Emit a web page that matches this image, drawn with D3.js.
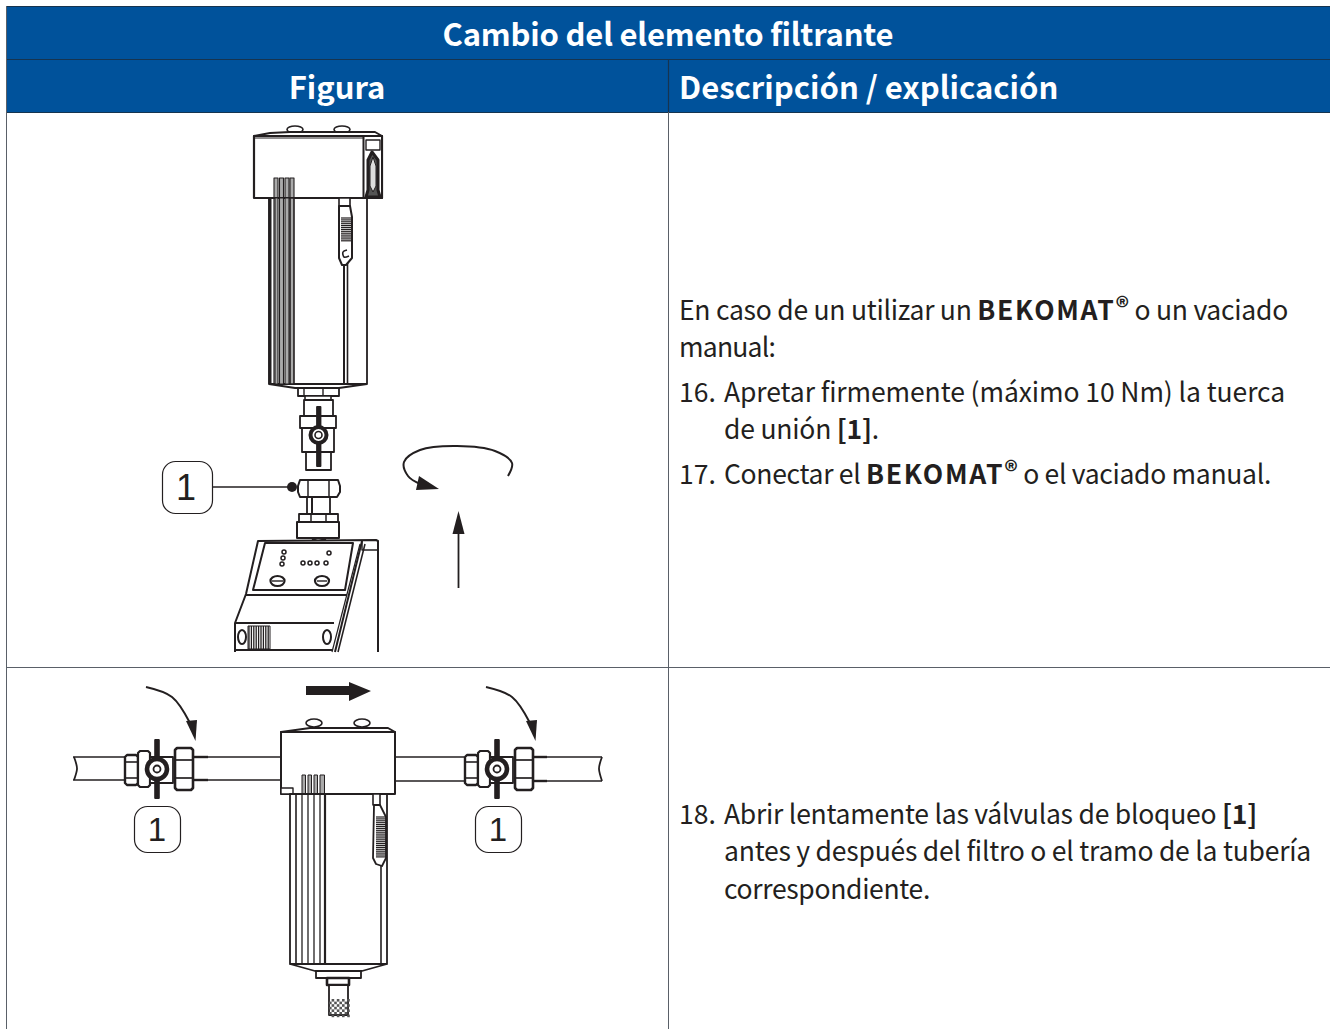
<!DOCTYPE html>
<html><head><meta charset="utf-8">
<script src="https://d3js.org/d3.v7.min.js"></script>
<style>html,body{margin:0;padding:0;background:#fff;overflow:hidden}svg{display:block}</style>
</head><body><svg id="c" width="1330" height="1029"></svg>
<script>
const title = "Cambio del elemento filtrante";
const colHeads = [{t:"Figura",x:337,a:"middle"},{t:"Descripción / explicación",x:679,a:"start"}];
const bodyLines = [
 {x:679,y:320,e:1288,s:[["En caso de un utilizar un "],["BEKOMAT",1],["®",2],[" o un vaciado"]]},
 {x:679,y:357,e:775,s:[["manual:"]]},
 {x:679,y:402,e:716,s:[["16."]]},
 {x:724,y:402,e:1285,s:[["Apretar firmemente (máximo 10 Nm) la tuerca"]]},
 {x:724,y:439,e:879,s:[["de unión "],["[1]",1],["."]]},
 {x:679,y:484,e:716,s:[["17."]]},
 {x:724,y:484,e:1271,s:[["Conectar el "],["BEKOMAT",1],["®",2],[" o el vaciado manual."]]},
 {x:679,y:824,e:716,s:[["18."]]},
 {x:724,y:824,e:1257,s:[["Abrir lentamente las válvulas de bloqueo "],["[1]",1]]},
 {x:724,y:861,e:1311,s:[["antes y después del filtro o el tramo de la tubería"]]},
 {x:724,y:899,e:930,s:[["correspondiente."]]}
];
const callouts = [[162,461,212,513,186,487,36],[134,806,180,852,157,829,33],[475,806,521,852,498,829,33]];
const rule = [[0,1330],[0,1029]];

// drawing primitives: [strokeWidth, fill, closed, curved, points]
const R=(a,b,c,d,w=1.6,f="#fff")=>[w,f,1,0,[[a,b],[c,b],[c,d],[a,d]]];
const L=(w,...p)=>[w,"none",0,0,p];
const S=(w,...p)=>[w,"none",0,1,p];
const F=(...p)=>[0,"#231f20",1,0,p];
const RR=(a,b,c,d,w=1.6)=>[w,"#fff",1,0,[[a+2,b],[c-2,b],[c,b+2],[c,d-2],[c-2,d],[a+2,d],[a,d-2],[a,b+2]]];

const caps1 = [[295,129.5,8,3.5,1.6],[342,129.5,8,3.5,1.6]];
const ellipses1 = [
 [318.5,435,8,8,4],[318.5,435,3.5,3.5,1.6],
 [284,552,2,2,1.5],[283,558,2,2,1.5],[282,564,2,2,1.5],
 [303,563,2,2,1.5],[310,563,2,2,1.5],[317,563,2,2,1.5],[326,563,2,2,1.5],[329,553,2,2,1.5],
 [277.5,581,7,5,2.2],[322,581,7,5,2.2],
 [242,637,4,7,2],[327,637,4,7,2]
];
const figure1 = [
 [2,"#fff",1,0,[[254,136],[270,133],[290,132],[375,132],[382,136]]],
 R(254,136,382,198,2.2),
 L(1,[254,138],[363,138]),
 R(363.5,136,382,198,2),
 R(366,140,380,150,1.4),
 [3,"#555",1,0,[[372,152],[378,160],[378,190],[380,197],[366,197],[368,190],[368,160]]],
 [1,"#ddd",1,0,[[373,157],[376,166],[376,186],[373,192],[370,186],[370,166]]],
 // fins
 R(274,178,278,198,1.1,"#aaa"),R(279.5,178,283.5,198,1.1,"#aaa"),R(285,178,289,198,1.1,"#aaa"),R(290,178,294,198,1.1,"#aaa"),
 // body
 R(269,198,367,384,1.8),
 L(3,[270,198],[270,384]),
 L(1.2,[274,198],[274,384]),
 R(275,198,278,384,1.1,"#aaa"),R(279.5,198,283.5,384,1.1,"#aaa"),R(285,198,289,384,1.1,"#aaa"),R(290,198,294,384,1.6,"#aaa"),
 L(2,[344,262],[344,384]),L(1.6,[347.5,262],[347.5,384]),
 // latch
 R(339,198,350,206,1.6),
 [2,"#fff",1,0,[[339,206],[350,206],[352,217],[352,258],[346,265],[342,265],[339,258]]],
 ...d3.range(218,242,1.9).map(y=>L(1.2,[341,y],[351,y])),
 S(1.6,[347,250],[343,252],[344,257],[349,256]),
 // bottom
 L(1.8,[269,384],[295,388],[339,388],[367,384]),
 R(298,388,339,396,1.8),L(1.4,[304,388],[304,396]),L(1.4,[323,388],[323,396]),
 R(305,396,331,400,1.6),
 // vertical valve
 R(304,400,333,416,1.8),
 R(300,416,336,428,1.8),
 R(302,428,334,452,1.8),
 R(306,452,331,470,1.8),
 R(317,407,320.5,466,1.8,"#231f20"),
 // nut and stub
 [2,"#fff",1,0,[[300,480],[338,480],[340,486],[340,492],[337,497],[300,497],[298,492],[298,486]]],
 L(1.5,[308,480],[308,497]),L(1.5,[329,480],[329,497]),
 R(307,497,330,515,1.8),
 L(2,[312,497],[312,515]),
 R(299,514,338,522,1.8),L(1.5,[311,514],[311,522]),L(1.5,[326,514],[326,522]),
 R(297,522,339,538,2),
 L(2,[312,540],[318,538],[326,540]),
 // device
 L(2,[378,652],[378,541],[376,540],[258,541],[246,594],[235,623],[235,652]),
 L(2,[362,541],[335,652]),L(1.6,[365,544],[338,652]),L(1.2,[360,544],[332,652]),
 L(1.4,[362,541],[362,550],[378,550]),
 [2,"none",1,0,[[265,543],[353,543],[345,590],[253,590]]],
 L(2,[246,595],[347,595]),
 L(2,[235,623],[334,623]),
 L(2,[235,650],[333,650]),
 R(248,626,270,649,1,"#fff"),
 ...d3.range(249,270,2.4).map(x=>L(1.3,[x,626],[x,649])),
 // rotation & up arrow
 S(2,[508,476],[512,463],[495,451],[457,446],[420,450],[404,462],[408,476],[420,484]),
 F([439,489],[419,476],[416,490]),
 L(1.8,[458.5,588],[458.5,530]),
 F([458.5,511],[452.5,534],[464.5,534]),
 // leader
 L(1.6,[212,487],[291,487])
];
const buttonMarks = [L(1.4,[272,581],[283,581]),L(1.4,[317,581],[327,581])];
const caps2 = [[314,723,8,4,1.6],[362,723,8,4,1.6]];
const pipeLeft = [
 S(1.8,[74,757],[76,763],[77,769],[74,780]),
 L(1.6,[73,757],[125,757]),L(1.6,[73,780],[125,780]),
 L(1.5,[193,757],[281,757]),L(1.5,[193,780],[281,780]),
 L(2.4,[193,757],[208,757]),L(2.4,[193,780],[208,780])
];
const pipeRight = [
 S(1.8,[602,757],[600,763],[599,769],[602,781]),
 L(1.5,[395,757],[464,757]),L(1.5,[395,781],[464,781]),
 L(1.5,[532,757],[602,757]),L(1.5,[532,781],[602,781]),
 L(2.4,[532,757],[547,757]),L(2.4,[532,781],[547,781])
];
const valve = [
 RR(125,755,138,785,2.4),L(1.6,[125,762],[138,762]),L(1.6,[125,778],[138,778]),
 RR(138,751,150,787,2.2),
 R(150,757,173,783,1.8),
 RR(175,748,193,790,2.6),L(1.7,[175,760],[193,760]),L(1.7,[175,778],[193,778]),
 R(155.2,740,158.8,798,2,"#231f20")
];
const valveEll = [[157,769,10,10,4.6],[157,769,3.5,3.5,1.8]];
const figure2Arrow = [
 S(2,[146,687],[172,697],[190,723]),
 F([195.5,741],[186,721],[197,720])
];
const figure2 = [
 F([306,686],[349,686],[349,682],[371,691],[349,701],[349,695],[306,695]),
 [2,"#fff",1,0,[[281,732],[310,728],[388,728],[395,732]]],
 R(281,732,395,794,2),
 R(281,788,293,794,1.4),
 R(302,775,305.5,794,1,"#aaa"),R(308,775,311.5,794,1,"#aaa"),R(314,775,317.5,794,1,"#aaa"),R(320,775,324.5,794,1,"#aaa"),
 R(290,794,387,964,1.8),
 L(1.6,[296,794],[296,964]),
 L(1.3,[302,794],[302,964]),L(1.3,[308,794],[308,964]),L(1.3,[314,794],[314,964]),L(1.3,[320,794],[320,964]),L(2.2,[325,794],[325,964]),
 L(1.6,[381,866],[381,964]),
 R(373,794,380,805,1.6),
 [1.8,"#fff",1,0,[[374,805],[380,805],[386,817],[386,858],[382,866],[376,864],[373,858]]],
 ...d3.range(817,857,1.9).map(y=>L(1.2,[376,y],[386,y])),
 L(1.8,[290,964],[315,971],[362,971],[387,964]),
 R(316,971,361,978,1.8),
 R(327,978,349,985,2.6),
 R(329,985,348,1015,1.8)
];
const checker = d3.range(329,348,2.6).flatMap((x,i)=>d3.range(999,1015,2.6).map((y,j)=>[x,y,(i+j)%2]));
const gridBorders = [
 L(1,[6.5,6],[6.5,1029]),
 L(1,[668.5,112],[668.5,1029]),
 L(1,[6.5,667.5],[1330,667.5])
];
const headerRules = [
 L(1,[6,6.5],[1330,6.5]),L(1.2,[6,59.5],[1330,59.5]),L(1.2,[6,112.5],[1330,112.5]),L(1.2,[668.5,59],[668.5,112])
];

const sx=d3.scaleLinear().domain(rule[0]).range(rule[0]);
const sy=d3.scaleLinear().domain(rule[1]).range(rule[1]);
const svg=d3.select("#c");
const ink="#231f20", blue="#00529b", rowLine="#5a6068", headLine="#16344f";
const textFont="'Noto Sans CJK SC','Noto Sans',sans-serif";
svg.append("rect").attr("width",1330).attr("height",1029).attr("fill","#fff");

function drawPolys(g,data,color){
  g.selectAll(null).data(data).join("path")
   .attr("d",d=>{
     const l=d3.line().x(p=>sx(p[0])).y(p=>sy(p[1]));
     if(d[3]) l.curve(d3.curveCatmullRom);
     return l(d[4])+(d[2]?"Z":"");
   })
   .attr("fill",d=>d[1]).attr("stroke",d=>d[0]?(color||ink):"none").attr("stroke-width",d=>d[0]).attr("stroke-linejoin","round");
}
function drawEll(g,data){
  g.selectAll(null).data(data).join("ellipse")
   .attr("cx",d=>sx(d[0])).attr("cy",d=>sy(d[1])).attr("rx",d=>d[2]).attr("ry",d=>d[3])
   .attr("fill","#fff").attr("stroke",ink).attr("stroke-width",d=>d[4]);
}

// header
svg.append("rect").attr("x",sx(6)).attr("y",sy(6)).attr("width",1324).attr("height",106).attr("fill",blue);
drawPolys(svg.append("g"),headerRules,headLine);
drawPolys(svg.append("g"),gridBorders,rowLine);
svg.append("text").attr("x",sx(668)).attr("y",sy(46)).attr("text-anchor","middle")
 .attr("font-family",textFont).attr("font-weight",700).attr("font-size",31).attr("letter-spacing",-0.2).attr("fill","#fff").text(title);
svg.selectAll(".ch").data(colHeads).join("text")
 .attr("x",d=>sx(d.x)).attr("y",sy(99)).attr("text-anchor",d=>d.a)
 .attr("font-family",textFont).attr("font-weight",700).attr("font-size",31).attr("fill","#fff").text(d=>d.t);

// body text: fitted to the measured line ends
const bt=svg.selectAll(".bl").data(bodyLines).join("text")
 .attr("x",d=>sx(d.x)).attr("y",d=>sy(d.y)).attr("font-family",textFont).attr("font-size",26.5).attr("fill",ink)
 .style("white-space","pre");
bt.selectAll("tspan").data(d=>d.s).join("tspan")
 .text(d=>d[0])
 .attr("font-weight",d=>d[1]?700:400)
 .attr("letter-spacing",d=>d[0]==="BEKOMAT"?1.7:null)
 .attr("dy",d=>d[1]===2?-3:null);
bt.each(function(d){
  const ts=d3.select(this).selectAll("tspan").nodes();
  ts.forEach((n,i)=>{ if(i>0 && d.s[i-1][1]===2) n.setAttribute("dy",3); });
  const len=this.getComputedTextLength();
  const n=d.s.filter(s=>s[0]!=="BEKOMAT").map(s=>s[0]).join("").length;
  const sp=(d.e-d.x-len)/n;
  ts.forEach((t,i)=>{ if(d.s[i][0]!=="BEKOMAT") t.setAttribute("letter-spacing",sp); });
});

// figures
const f1=svg.append("g");
drawEll(f1,caps1);
drawPolys(f1,figure1);
drawEll(f1,ellipses1);
drawPolys(f1,buttonMarks);
f1.append("circle").attr("cx",sx(292)).attr("cy",sy(487)).attr("r",5).attr("fill",ink);
const f2=svg.append("g");
drawPolys(f2,pipeLeft);
drawPolys(f2,pipeRight);
[0,340].forEach(dx=>{
  const g=f2.append("g").attr("transform",`translate(${dx},0)`);
  drawPolys(g,valve);
  drawEll(g,valveEll);
  drawPolys(g,figure2Arrow);
});
drawEll(f2,caps2);
drawPolys(f2,figure2);
f2.selectAll("rect.chk").data(checker.filter(d=>d[2])).join("rect")
 .attr("x",d=>sx(d[0])).attr("y",d=>sy(d[1])).attr("width",2.6).attr("height",2.6).attr("fill","#555");
// callouts
svg.selectAll(".co").data(callouts).join("rect")
 .attr("x",d=>sx(d[0])+.5).attr("y",d=>sy(d[1])+.5).attr("width",d=>d[2]-d[0]).attr("height",d=>d[3]-d[1]).attr("rx",13)
 .attr("fill","#fff").attr("stroke",ink).attr("stroke-width",1.2);
svg.selectAll(".cn").data(callouts).join("text")
 .attr("x",d=>sx(d[4])).attr("y",d=>sy(d[5])+d[6]*.36).attr("text-anchor","middle")
 .attr("font-family","'Liberation Sans',sans-serif").attr("font-size",d=>d[6]).attr("fill",ink).text("1");
</script></body></html>
